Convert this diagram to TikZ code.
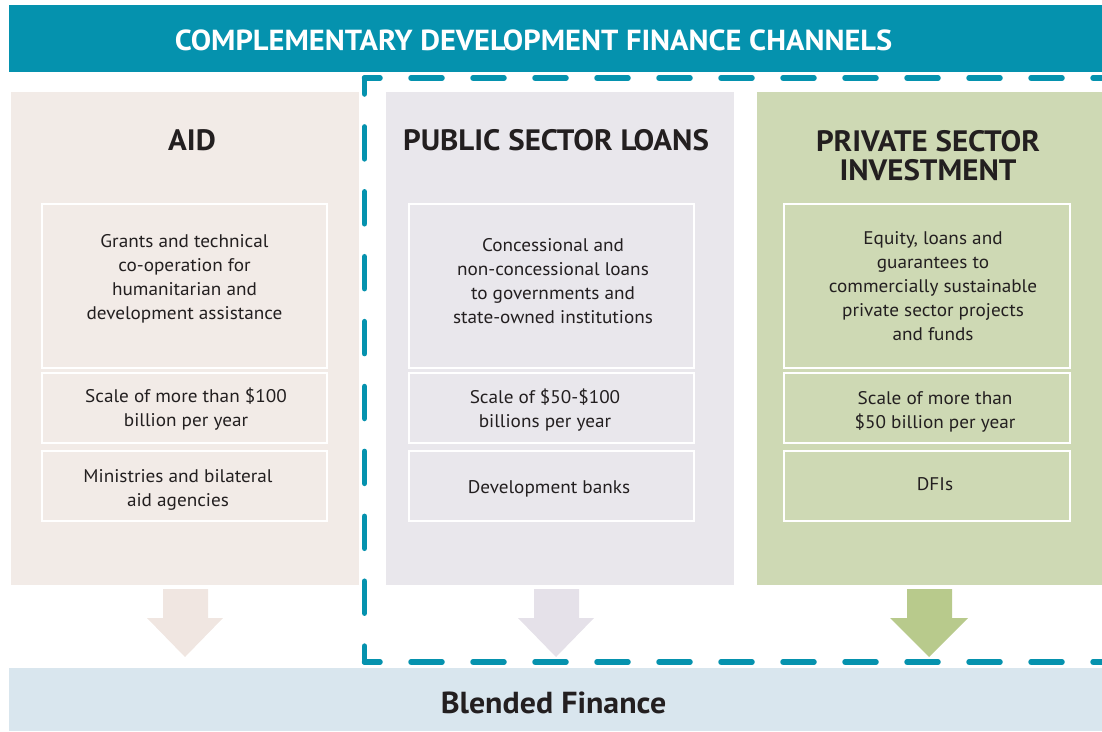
\documentclass[tikz,border=0pt]{standalone}
\usepackage{fontspec}
\setmainfont{PT Sans}[FakeStretch=1.05]

\definecolor{teal}{RGB}{5,146,174}
\definecolor{aidbg}{RGB}{242,235,231}
\definecolor{aidarrow}{RGB}{240,230,225}
\definecolor{pubbg}{RGB}{233,231,236}
\definecolor{pubarrow}{RGB}{229,225,233}
\definecolor{privbg}{RGB}{206,217,180}
\definecolor{privarrow}{RGB}{184,202,140}
\definecolor{blendbg}{RGB}{217,230,238}
\definecolor{ink}{RGB}{35,31,32}

\tikzstyle{bar}=[rectangle, inner sep=0pt]
\tikzstyle{column}=[rectangle, inner sep=0pt, minimum height=493pt]
\tikzstyle{heading}=[align=center, text=ink, font=\fontsize{29.5}{31}\selectfont\bfseries]
\tikzstyle{cell}=[rectangle, draw=white, line width=2.5pt, minimum width=285pt]
\tikzstyle{celltext}=[align=center, text=ink, font=\fontsize{18.3}{24}\selectfont]
\tikzstyle{hdash}=[draw=teal, line width=5.5pt, line cap=round, dash pattern=on 31pt off 31pt, dash phase=15.5pt]
\tikzstyle{vdash}=[draw=teal, line width=5.5pt, line cap=round, dash pattern=on 32pt off 32.9pt, dash phase=16pt]

\begin{document}
\begin{tikzpicture}[x=1pt, y=-1pt]
\useasboundingbox (0,0) rectangle (1102,731);

\node[bar, fill=teal, minimum width=1093pt, minimum height=67pt] (title) at (555.5,38.5) {};
\node[text=white, font=\fontsize{29}{30}\selectfont\bfseries] (titletext) at (533.5,40) {COMPLEMENTARY DEVELOPMENT FINANCE CHANNELS};

\node[column, fill=aidbg, minimum width=348pt] (aid) at (185,338.5) {};
\node[column, fill=pubbg, minimum width=348pt] (pub) at (560,338.5) {};
\node[column, fill=privbg, minimum width=345pt] (priv) at (929.5,338.5) {};

\node[heading] (aidhead) at (192,140) {AID};
\node[heading] (pubhead) at (556,140) {PUBLIC SECTOR LOANS};
\node[heading] (privhead) at (928,156) {PRIVATE SECTOR\\[-2pt]INVESTMENT};

% AID
\node[cell, minimum height=164pt] (aid1) at (184.5,286) {};
\node[cell, minimum height=70pt] (aid2) at (184.5,408) {};
\node[cell, minimum height=70pt] (aid3) at (184.5,486) {};
\node[celltext] at (184.5,279) {Grants and technical\\co-operation for\\humanitarian and\\development assistance};
\node[celltext] at (186,409) {Scale of more than \$100\\billion per year};
\node[celltext] at (178,490) {Ministries and bilateral\\aid agencies};

% public sector loans
\node[cell, minimum height=164pt] (pub1) at (551.5,286) {};
\node[cell, minimum height=70pt] (pub2) at (551.5,408) {};
\node[cell, minimum height=70pt] (pub3) at (551.5,486) {};
\node[celltext] at (553,281) {Concessional and\\non-concessional loans\\to governments and\\state-owned institutions};
\node[celltext] at (545,410) {Scale of \$50-\$100\\billions per year};
\node[celltext] at (549,489) {Development banks};

% private sector investment
\node[cell, minimum height=164pt, minimum width=286pt] (priv1) at (927,286) {};
\node[cell, minimum height=70pt, minimum width=286pt] (priv2) at (927,408) {};
\node[cell, minimum height=70pt, minimum width=286pt] (priv3) at (927,486) {};
\node[celltext] at (933,286) {Equity, loans and\\guarantees to\\commercially sustainable\\private sector projects\\and funds};
\node[celltext] at (935,412) {Scale of more than\\\$50 billion per year};
\node[celltext] at (935,484) {DFIs};

\node[bar, fill=blendbg, minimum width=1093pt, minimum height=63pt] (blend) at (555.5,699.5) {};
\node[text=ink, font=\fontsize{30.4}{32}\selectfont\bfseries] (blendtext) at (553.5,703) {Blended Finance};

% arrows down
\fill[aidarrow] (163,589) -- (208,589) -- (208,618) -- (223,618) -- (185,657) -- (147,618) -- (163,618) -- cycle;
\fill[pubarrow] (534,589) -- (579,589) -- (579,618) -- (594,618) -- (556,657) -- (518,618) -- (534,618) -- cycle;
\fill[privarrow] (907,589) -- (952,589) -- (952,618) -- (968,618) -- (929,657) -- (890,618) -- (907,618) -- cycle;

% dashed frame
\draw[hdash] (364.5,78) -- (1120,78);
\draw[hdash] (364.5,662) -- (1120,662);
\draw[vdash] (364.5,78) -- (364.5,662);
\end{tikzpicture}
\end{document}
